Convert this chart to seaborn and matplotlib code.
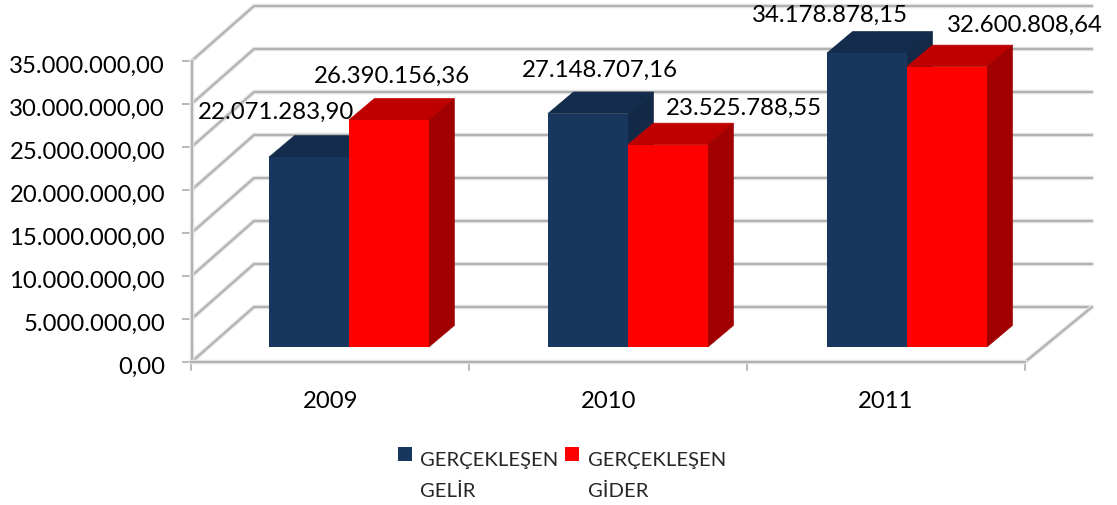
import matplotlib
matplotlib.use("Agg")
import matplotlib.pyplot as plt
import matplotlib.patheffects as pe
from matplotlib.patches import Polygon
from matplotlib.ticker import FuncFormatter, MultipleLocator
from matplotlib.transforms import Affine2D
import pandas as pd
import seaborn as sns

years = ["2009", "2010", "2011"]
gelir = [22071283.90, 27148707.16, 34178878.15]
gider = [26390156.36, 23525788.55, 32600808.64]
series_names = ["GERÇEKLEŞEN\nGELİR", "GERÇEKLEŞEN\nGİDER"]

front_colors = ["#17375E", "#FF0000"]
top_colors = ["#132C4B", "#BF0000"]
side_colors = ["#122A48", "#A00000"]
GRID = "#B2B2B2"

W, H, DPI = 1117, 506, 100
sns.set_style("white")
plt.rcParams["font.family"] = ["Lato", "DejaVu Sans"]

df = pd.DataFrame({
    "year": years * 2,
    "value": gelir + gider,
    "series": [series_names[0]] * 3 + [series_names[1]] * 3,
})


def tr_fmt(v, _=None):
    return f"{v:,.2f}".replace(",", "X").replace(".", ",").replace("X", ".")


fig = plt.figure(figsize=(W / DPI, H / DPI), dpi=DPI, facecolor="white")
L, R, T, B = 191.5, 1025, 62, 363
ax = fig.add_axes([L / W, 1 - B / H, (R - L) / W, (B - T) / H])
sns.barplot(data=df, x="year", y="value", hue="series", palette=front_colors,
            width=0.573, gap=0, saturation=1, legend=False, ax=ax, linewidth=0)
ax.set_xlim(-0.5, 2.5)
ax.set_ylim(0, 35000000)
ax.yaxis.set_major_locator(MultipleLocator(5000000))
ax.yaxis.set_major_formatter(FuncFormatter(tr_fmt))
ax.set_xlabel("")
ax.set_ylabel("")
ax.patch.set_alpha(0)

# pixel shifts of the 3-D projection (display y points up)
bar_plane = Affine2D().translate(-269, 0).scale(279 / 277.8, 1).translate(269 + 18.2, 15)
depth = (25.5, 21.5)
wall_left, wall_right, wall_up = 62.5, 67, 55

soft = [pe.withStroke(linewidth=3.2, foreground="#E4E4E4")]
line_kw = dict(color=GRID, lw=1.5, solid_capstyle="round", clip_on=False,
               transform=None, path_effects=soft, zorder=1)


def disp(x, y):
    return ax.transData.transform((x, y))


fig.canvas.draw()
xmin, xmax = ax.get_xlim()
for tick in [t for t in ax.get_yticks() if 0 <= t <= 35000000]:
    x0, y0 = disp(xmin, tick)
    x1, _ = disp(xmax, tick)
    ax.plot([x0, x0 + wall_left, x1 + wall_right], [y0, y0 + wall_up, y0 + wall_up], **line_kw)
x1, y0 = disp(xmax, 0)
ax.plot([x1, x1 + wall_right], [y0, y0 + wall_up], **line_kw)

# 3-D bars: front faces are seaborn's own patches, moved onto the bar plane
for s, container in enumerate(ax.containers):
    for bar in container:
        a, b = bar_plane.transform(disp(bar.get_x(), 0))
        c, d = bar_plane.transform(disp(bar.get_x() + bar.get_width(), bar.get_height()))
        dx, dy = depth
        base_z = 3 + 2 * s
        ax.add_patch(Polygon([(a, d), (c, d), (c + dx, d + dy), (a + dx, d + dy)], closed=True,
                             fc=top_colors[s], ec=top_colors[s], lw=0.5, transform=None,
                             clip_on=False, zorder=base_z))
        ax.add_patch(Polygon([(c, b), (c, d), (c + dx, d + dy), (c + dx, b + dy)], closed=True,
                             fc=side_colors[s], ec=side_colors[s], lw=0.5, transform=None,
                             clip_on=False, zorder=base_z))
        bar.set_transform(ax.transData + bar_plane)
        bar.set_clip_on(False)
        bar.set_zorder(base_z + 1)

# value labels: pixel offset from each bar's (unshifted) top centre
label_offsets = [[(-14.5, 61), (21.5, 60)], [(31.5, 59), (96, 52.5)], [(-16, 54), (98.5, 57)]]
for s, container in enumerate(ax.containers):
    for i, bar in enumerate(container):
        off = label_offsets[i][s]
        ax.annotate(tr_fmt(bar.get_height()),
                    xy=(bar.get_x() + bar.get_width() / 2, bar.get_height()),
                    xytext=(off[0] * 72 / DPI, off[1] * 72 / DPI), textcoords="offset points",
                    ha="center", va="center", fontsize=17.3, color="black", zorder=10,
                    annotation_clip=False)

sns.despine(ax=ax, top=True, right=True)
for side in ("left", "bottom"):
    ax.spines[side].set_color(GRID)
    ax.spines[side].set_linewidth(1.5)
    ax.spines[side].set_path_effects(soft)
ax.tick_params(axis="both", which="major", width=1.3, color=GRID, left=True, bottom=False,
               labelcolor="black")
ax.tick_params(axis="y", length=7, pad=12, labelsize=17.2)
ax.tick_params(axis="x", pad=17, labelsize=17.2)
for lab in ax.get_yticklabels():
    lab.set_transform(lab.get_transform() + Affine2D().translate(0, -2.5))
for x in (-0.5, 0.5, 1.5, 2.5):
    xd, yd = disp(x, 0)
    ax.plot([xd, xd], [yd, yd - 8], color=GRID, lw=1.3, clip_on=False, transform=None, zorder=2)

leg = ax.legend(handles=[c.patches[0] for c in ax.containers], labels=series_names,
                ncol=2, frameon=False, fontsize=14.6, loc="upper left",
                bbox_to_anchor=(396 / W, 1 - 450 / H), bbox_transform=fig.transFigure,
                handlelength=0.69, handleheight=0.69, handletextpad=0.4, columnspacing=0.35,
                borderpad=0.1, labelspacing=0.2, alignment="left", borderaxespad=0)
for t in leg.get_texts():
    t.set_linespacing(1.95)
for h in leg.legend_handles:
    h.set_y(h.get_y() + 21 * 72 / DPI)

fig.savefig("out.png", dpi=DPI, facecolor="white")
